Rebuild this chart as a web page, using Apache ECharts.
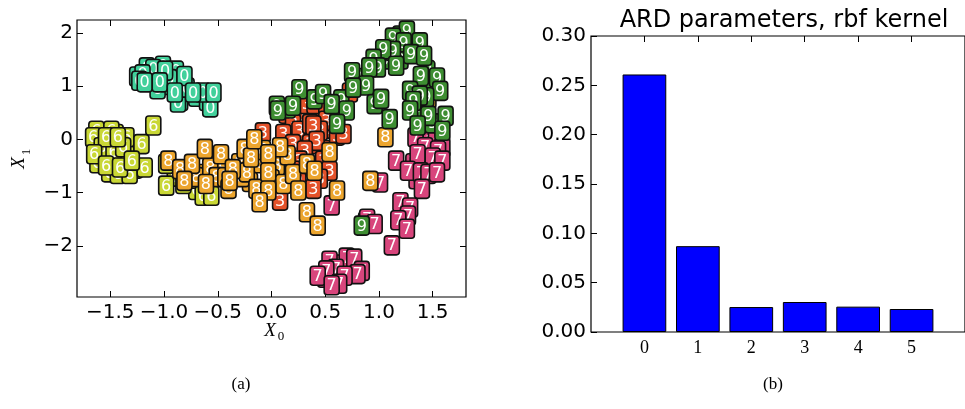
<!DOCTYPE html>
<html>
<head>
<meta charset="utf-8">
<script src="https://cdn.jsdelivr.net/npm/echarts@6/dist/echarts.min.js"></script>
<style>
html, body { margin: 0; padding: 0; background: #fff; }
#main { width: 965px; height: 409px; }
</style>
</head>
<body>
<div id="main"></div>
<script>
// latent positions of each digit class, [X0, X1] (back to front)
var digit0 = [[-1.13,1.15],[-0.98,1.02],[-0.70,0.80],[-0.60,0.72],[-1.25,1.18],[-0.93,1.20],
  [-1.16,1.35],[-1.01,1.38],[-0.89,1.29],[-1.10,1.32],[-1.20,1.22],[-0.85,0.72],[-0.57,0.60],[-0.87,0.69],
  [-1.23,1.10],[-0.95,1.13],[-0.79,0.97],[-1.06,0.94],[-0.64,0.88],[-0.99,1.29],[-0.81,1.19],[-1.18,1.07],
  [-1.04,1.07],[-0.90,0.88],[-0.73,0.88],[-0.54,0.88]];
var digit6 = [[-1.60,-0.35],[-1.50,-0.10],[-1.35,-0.30],[-1.45,0.10],[-1.62,-0.45],[-1.27,-0.55],[-0.90,-0.70],
  [-0.70,-0.95],[-0.60,-0.90],
  [-1.63,0.16],[-1.49,0.16],[-1.35,0.04],[-1.66,0.04],[-1.51,-0.62],[-1.43,-0.65],[-1.32,-0.65],[-1.58,-0.15],
  [-1.47,-0.24],[-1.38,-0.15],[-0.82,-0.84],[-0.73,-0.74],[-0.64,-1.06],[-0.56,-1.06],[-1.54,0.04],[-1.43,0.04],
  [-1.65,-0.28],[-1.21,-0.09],[-1.18,-0.53],[-1.54,-0.49],[-1.41,-0.53],[-1.30,-0.40],[-0.98,-0.46],[-0.98,-0.87],
  [-1.10,0.26]];
var digit7 = [[1.45,0.20],[1.48,-0.05],[1.32,-0.45],[1.50,-0.50],[1.35,-0.75],[1.25,-1.35],[0.88,-1.55],
  [0.65,-2.35],[0.75,-2.45],[0.50,-2.60],[0.60,-2.60],
  [1.37,0.35],[1.53,0.10],[1.34,0.04],[1.59,-0.15],[1.43,-0.15],[1.55,-0.21],[1.36,-0.28],[1.50,-0.34],
  [1.16,-0.40],[1.59,-0.40],[1.27,-0.59],[1.39,-0.62],[1.46,-0.65],[1.54,-0.62],[1.40,-0.93],[1.01,-0.81],
  [1.20,-1.18],[1.29,-1.28],[1.27,-1.43],[1.18,-1.52],[1.26,-1.68],[1.12,-1.99],[0.89,-1.49],[0.96,-1.59],
  [0.56,-1.24],[0.54,-2.28],[0.70,-2.22],[0.77,-2.24],[0.60,-2.43],[0.51,-2.46],[0.84,-2.47],[0.80,-2.53],
  [0.43,-2.56],[0.68,-2.56],[0.63,-2.71],[0.56,-2.74]];
var digit3 = [[0.30,0.45],[0.45,0.45],[0.55,0.20],[0.30,0.00],[0.15,-0.25],[0.40,-0.55],[0.50,-0.20],
  [0.10,-0.70],[0.25,-0.80],
  [0.14,0.48],[0.33,0.66],[0.40,0.66],[0.51,0.60],[0.73,0.88],[0.61,0.41],[0.51,0.35],[0.20,0.29],
  [0.26,0.16],[0.45,0.16],[0.36,0.29],[0.39,0.26],[0.61,0.07],[0.67,0.10],[-0.08,0.13],[0.11,0.10],
  [0.20,-0.09],[0.36,-0.09],[0.42,-0.03],[0.31,-0.21],[0.26,-0.40],[0.48,-0.40],[0.02,-0.46],[0.20,-0.59],
  [0.54,-0.59],[0.45,-0.74],[0.39,-0.93],[0.08,-1.15]];
var digit8 = [[-0.55,-0.40],[-0.30,-0.45],[-0.10,-0.45],[0.05,-0.50],[-0.20,-0.80],[0.00,-0.75],[-0.45,-0.55],
  [-0.65,-0.65],[0.15,-0.30],[-0.08,-0.20],
  [1.46,0.76],[-0.96,-0.40],[-0.85,-0.56],[-0.70,-0.71],[-0.74,-0.46],[-0.81,-0.78],[-0.57,-0.53],[-0.51,-0.71],
  [-0.43,-0.71],[-0.40,-0.93],[-0.28,-0.71],[-0.23,-0.62],[-0.62,-0.18],[-0.47,-0.28],[-0.61,-0.84],[-0.36,-0.56],
  [-0.39,-0.78],[-0.25,-0.18],[-0.19,-0.34],[-0.16,0.00],[0.08,-0.15],[-0.03,-0.28],[-0.14,-0.93],[-0.03,-0.62],
  [0.11,-0.84],[-0.03,-0.96],[-0.11,-1.18],[0.20,-0.65],[0.33,-0.46],[0.25,-0.96],[0.40,-0.59],[0.54,-0.24],
  [0.61,-0.96],[0.33,-1.37],[0.43,-1.62],[1.06,0.04],[0.92,-0.78]];
var digit9 = [[1.20,1.95],[1.35,1.70],[1.05,1.50],[1.20,1.50],[1.45,1.30],[1.50,1.00],[1.35,0.60],[1.50,0.30],
  [0.85,1.15],[0.65,0.75],[0.40,0.75],[0.15,0.58],
  [1.26,2.04],[1.13,1.91],[1.23,1.82],[1.13,1.66],[1.04,1.69],[1.38,1.82],[1.30,1.60],[1.42,1.57],
  [0.95,1.51],[0.99,1.35],[1.16,1.38],[0.91,1.35],[0.75,1.26],[1.39,1.19],[1.54,1.16],[0.88,1.01],
  [0.76,0.97],[1.29,0.91],[1.57,0.91],[1.44,0.79],[1.38,0.82],[1.32,0.72],[0.05,0.63],[0.26,0.94],
  [0.48,0.85],[0.56,0.66],[0.96,0.66],[1.02,0.76],[0.06,0.54],[0.20,0.63],[0.70,0.54],[0.61,0.29],
  [1.10,0.38],[1.29,0.54],[1.46,0.44],[1.62,0.44],[1.36,0.26],[1.59,0.16],[0.84,-1.62]];

var classNames = ['7', '6', '0', '3', '8', '9'];
var classPoints = [digit7, digit6, digit0, digit3, digit8, digit9];
var classColors = ['#d8457c', '#c9d735', '#42d09b', '#e4522a', '#eca52e', '#3e8e32'];

var xTicks = [-1.5, -1.0, -0.5, 0.0, 0.5, 1.0, 1.5];
var yTicks = [-2, -1, 0, 1, 2];

// ARD parameters of the rbf kernel
var ardDims = [0, 1, 2, 3, 4, 5];
var ardValues = [0.261, 0.087, 0.0253, 0.0304, 0.0257, 0.0233];

var chart = echarts.init(document.getElementById('main'));

var tickFont = 'DejaVu Sans';
var serif = 'Liberation Serif';

function minus(s) { return s.replace('-', '\u2212'); }

function digitSeries(name, pts, color) {
  return {
    type: 'custom',
    xAxisIndex: 0,
    yAxisIndex: 0,
    silent: true,
    clip: true,
    data: pts,
    renderItem: function (params, api) {
      var p = api.coord([api.value(0), api.value(1)]);
      return {
        type: 'group',
        children: [{
          type: 'rect',
          shape: { x: p[0] - 7.5, y: p[1] - 9.5, width: 15, height: 19, r: 3 },
          style: { fill: color, stroke: '#111', lineWidth: 1.6 }
        }, {
          type: 'text',
          style: {
            text: name, x: p[0], y: p[1] + 1, align: 'center', verticalAlign: 'middle',
            fill: '#fff', font: '16px "DejaVu Sans"'
          }
        }]
      };
    }
  };
}

var series = [];
for (var i = 0; i < classNames.length; i++) {
  series.push(digitSeries(classNames[i], classPoints[i], classColors[i]));
}
series.push({
  type: 'bar',
  xAxisIndex: 2,
  yAxisIndex: 2,
  barWidth: 43.7,
  silent: true,
  data: ardDims.map(function (d, k) { return [d, ardValues[k]]; }),
  itemStyle: { color: '#0000ff', borderColor: '#000', borderWidth: 1 }
});

function frameAxis(extra) {
  var base = {
    type: 'value',
    axisLine: { show: false, onZero: false },
    splitLine: { show: false },
    axisTick: { inside: true, length: 6, lineStyle: { color: '#000' } },
    axisLabel: { show: false }
  };
  for (var k in extra) base[k] = extra[k];
  return base;
}

var option = {
  animation: false,
  grid: [
    { left: 77, top: 20, width: 389, height: 277, show: true, borderColor: '#000', borderWidth: 1.2, backgroundColor: 'transparent' },
    { left: 591, top: 36, width: 383, height: 296, show: true, borderColor: '#000', borderWidth: 1.2, backgroundColor: 'transparent' }
  ],
  xAxis: [
    frameAxis({ gridIndex: 0, min: -1.81, max: 1.81, position: 'bottom',
      axisTick: { inside: true, length: 6, customValues: xTicks, lineStyle: { color: '#000' } },
      axisLabel: { customValues: xTicks, margin: 6, color: '#000', fontSize: 20, fontFamily: tickFont,
        formatter: function (v) { return minus(v.toFixed(1)); } } }),
    frameAxis({ gridIndex: 0, min: -1.81, max: 1.81, position: 'top',
      axisTick: { inside: true, length: 6, customValues: xTicks, lineStyle: { color: '#000' } } }),
    frameAxis({ gridIndex: 1, min: -1, max: 6, position: 'bottom',
      axisTick: { inside: true, length: 6, customValues: ardDims, lineStyle: { color: '#000' } },
      axisLabel: { customValues: ardDims, margin: 7, color: '#000', fontSize: 18, fontFamily: serif } }),
    frameAxis({ gridIndex: 1, min: -1, max: 6, position: 'top',
      axisTick: { inside: true, length: 6, customValues: ardDims, lineStyle: { color: '#000' } } })
  ],
  yAxis: [
    frameAxis({ gridIndex: 0, min: -2.96, max: 2.24, position: 'left',
      axisTick: { inside: true, length: 6, customValues: yTicks, lineStyle: { color: '#000' } },
      axisLabel: { customValues: yTicks, margin: 4, color: '#000', fontSize: 20, fontFamily: tickFont,
        formatter: function (v) { return minus(String(v)); } } }),
    frameAxis({ gridIndex: 0, min: -2.96, max: 2.24, position: 'right',
      axisTick: { inside: true, length: 6, customValues: yTicks, lineStyle: { color: '#000' } } }),
    frameAxis({ gridIndex: 1, min: 0, max: 0.3, interval: 0.05, position: 'left',
      axisLabel: { margin: 5, color: '#000', fontSize: 20, fontFamily: tickFont,
        formatter: function (v) { return v.toFixed(2); } } })
  ],
  graphic: [
    { type: 'text', x: 784, y: 21, silent: true,
      style: { text: 'ARD parameters, rbf kernel', align: 'center', verticalAlign: 'middle',
        font: '24px "DejaVu Sans"', fill: '#000' } },
    { type: 'text', x: 270, y: 331, silent: true,
      style: { text: 'X', align: 'center', verticalAlign: 'middle', font: 'italic 19px "Liberation Serif"', fill: '#000' } },
    { type: 'text', x: 281, y: 337, silent: true,
      style: { text: '0', align: 'center', verticalAlign: 'middle', font: '13px "Liberation Serif"', fill: '#000' } },
    { type: 'text', x: 19, y: 163, rotation: Math.PI / 2, silent: true,
      style: { text: 'X', align: 'center', verticalAlign: 'middle', font: 'italic 19px "Liberation Serif"', fill: '#000' } },
    { type: 'text', x: 27, y: 152, rotation: Math.PI / 2, silent: true,
      style: { text: '1', align: 'center', verticalAlign: 'middle', font: '13px "Liberation Serif"', fill: '#000' } },
    { type: 'text', x: 241, y: 385, silent: true,
      style: { text: '(a)', align: 'center', verticalAlign: 'middle', font: '17px "Liberation Serif"', fill: '#000' } },
    { type: 'text', x: 773, y: 385, silent: true,
      style: { text: '(b)', align: 'center', verticalAlign: 'middle', font: '17px "Liberation Serif"', fill: '#000' } }
  ],
  series: series
};

chart.setOption(option);
</script>
</body>
</html>
